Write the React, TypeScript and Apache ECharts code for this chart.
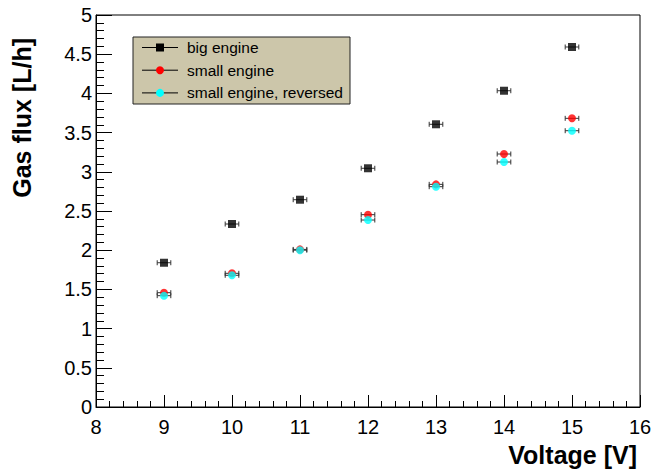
import React, { useEffect, useRef } from "react";
import * as echarts from "echarts";

const voltages = [9, 10, 11, 12, 13, 14, 15];
const bigEngine = [1.84, 2.334, 2.644, 3.045, 3.606, 4.034, 4.592];
const smallEngine = [1.458, 1.705, 2.01, 2.453, 2.84, 3.227, 3.682];
const smallEngineReversed = [1.42, 1.68, 2.0, 2.385, 2.81, 3.125, 3.524];
const voltageError = 0.1;
const seriesNames = ["big engine", "small engine", "small engine, reversed"];
const seriesColors = ["#000000", "#ff0000", "#00ffff"];
const seriesSymbols = ["rect", "circle", "circle"];
const xTitle = "Voltage [V]";
const yTitle = "Gas flux [L/h]";

const FONT = "'Liberation Sans', Arial, Helvetica, sans-serif";

export default function App() {
  const ref = useRef<HTMLDivElement>(null);
  useEffect(() => {
    if (!ref.current) return;
    const chart = echarts.init(ref.current, null, { renderer: "svg" });
    const allValues = [bigEngine, smallEngine, smallEngineReversed];

    const errorSeries = allValues.map((vals, si) => ({
      type: "custom",
      name: seriesNames[si] + " err",
      silent: true,
      z: 2,
      data: voltages.map((v, i) => [v, vals[i]]),
      renderItem: (params: any, api: any) => {
        const x = api.value(0);
        const y = api.value(1);
        const p1 = api.coord([x - voltageError, y]);
        const p2 = api.coord([x + voltageError, y]);
        const s = { stroke: "#333333", lineWidth: 1 };
        return {
          type: "group",
          children: [
            { type: "line", shape: { x1: p1[0], y1: p1[1], x2: p2[0], y2: p2[1] }, style: s },
            { type: "line", shape: { x1: p1[0], y1: p1[1] - 2.5, x2: p1[0], y2: p1[1] + 2.5 }, style: s },
            { type: "line", shape: { x1: p2[0], y1: p2[1] - 2.5, x2: p2[0], y2: p2[1] + 2.5 }, style: s },
          ],
        };
      },
    }));

    const scatterSeries = allValues.map((vals, si) => ({
      type: "scatter",
      name: seriesNames[si],
      z: 3 + si,
      symbol: seriesSymbols[si],
      symbolSize: 8,
      itemStyle: { color: seriesColors[si] },
      data: voltages.map((v, i) => [v, vals[i]]),
    }));

    const lx = 133, ly = 37, rowH = 22.7;
    const legendChildren: any[] = [
      { type: "rect", shape: { x: lx, y: ly, width: 217, height: 67 }, style: { fill: "#ccc6aa", stroke: "#222", lineWidth: 1 } },
    ];
    seriesNames.forEach((n, i) => {
      const cy = ly + 10.5 + i * rowH;
      legendChildren.push({ type: "line", shape: { x1: 142, y1: cy, x2: 178, y2: cy }, style: { stroke: "#000", lineWidth: 1 } });
      if (seriesSymbols[i] === "rect") {
        legendChildren.push({ type: "rect", shape: { x: 156, y: cy - 4, width: 8, height: 8 }, style: { fill: seriesColors[i] } });
      } else {
        legendChildren.push({ type: "circle", shape: { cx: 160, cy, r: 4 }, style: { fill: seriesColors[i] } });
      }
      legendChildren.push({
        type: "text",
        x: 187,
        y: cy,
        style: { text: n, fontSize: 15.5, fontFamily: FONT, fill: "#000", align: "left", verticalAlign: "middle" },
      });
    });

    chart.setOption({
      animation: false,
      backgroundColor: "#ffffff",
      grid: { left: 96, right: 18, top: 15, bottom: 62, show: true, borderColor: "#000", borderWidth: 1, backgroundColor: "transparent" },
      xAxis: {
        type: "value",
        min: 8,
        max: 16,
        interval: 1,
        axisLine: { show: true, lineStyle: { color: "#000", width: 1 } },
        axisTick: { show: true, inside: true, length: 12, lineStyle: { color: "#000" } },
        minorTick: { show: true, splitNumber: 5, length: 6, lineStyle: { color: "#000" } },
        splitLine: { show: false },
        axisLabel: { fontSize: 20, color: "#000", fontFamily: FONT, margin: 10 },
      },
      yAxis: {
        type: "value",
        min: 0,
        max: 5,
        interval: 0.5,
        axisLine: { show: true, lineStyle: { color: "#000", width: 1 } },
        axisTick: { show: true, inside: true, length: 16, lineStyle: { color: "#000" } },
        minorTick: { show: true, splitNumber: 5, length: 8, lineStyle: { color: "#000" } },
        splitLine: { show: false },
        axisLabel: { fontSize: 20, color: "#000", fontFamily: FONT, margin: 4 },
      },
      series: [...errorSeries, ...scatterSeries],
      graphic: [
        {
          type: "text",
          x: 637,
          y: 455,
          style: { text: xTitle, fontSize: 25, fontWeight: "bold", fontFamily: FONT, fill: "#000", align: "right", verticalAlign: "middle" },
        },
        {
          type: "text",
          x: 22,
          y: 38,
          rotation: Math.PI / 2,
          style: { text: yTitle, fontSize: 25, fontWeight: "bold", fontFamily: FONT, fill: "#000", align: "right", verticalAlign: "middle" },
        },
        { type: "group", children: legendChildren },
      ],
    });
    return () => chart.dispose();
  }, []);
  return <div ref={ref} style={{ position: "fixed", left: 0, top: 0, width: 658, height: 469 }} />;
}
